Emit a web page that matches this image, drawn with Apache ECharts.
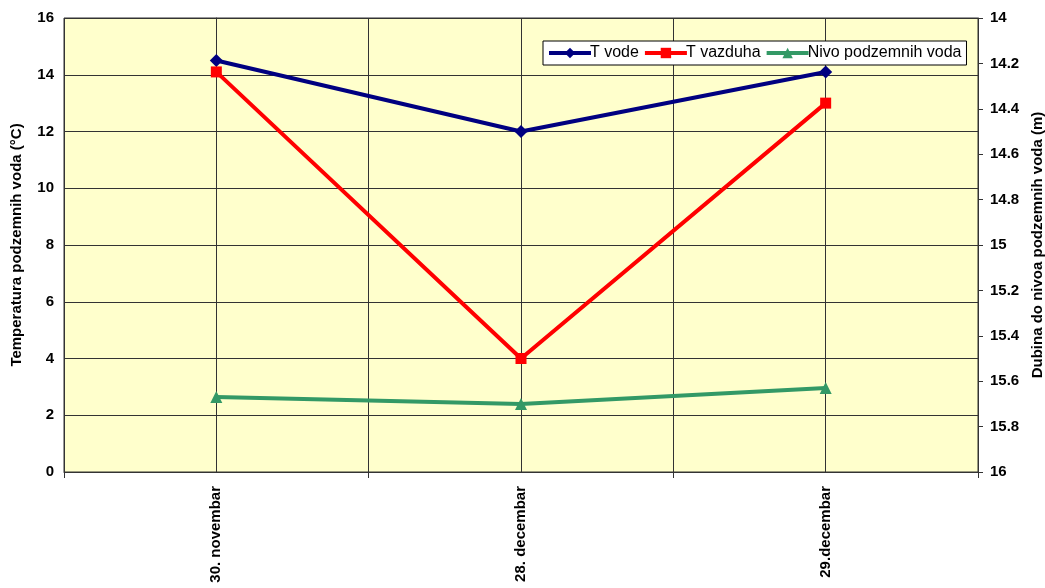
<!DOCTYPE html>
<html><head><meta charset="utf-8">
<script src="https://cdn.jsdelivr.net/npm/echarts@6/dist/echarts.min.js"></script>
<style>html,body{margin:0;padding:0;background:#fff}#c{width:1045px;height:588px}</style>
</head><body><div id="c"></div>
<script>
const categories = ['30. novembar', '28. decembar', '29.decembar'];
const tVode = [14.5, 12, 14.1];
const tVazduha = [14.1, 4, 13];
const nivo = [15.67, 15.70, 15.63];

const font = 'Liberation Sans, Arial, sans-serif';
const chart = echarts.init(document.getElementById('c'));
chart.setOption({
  animation: false,
  backgroundColor: '#ffffff',
  grid: { left: 64, right: 67, top: 18, bottom: 116, show: true, backgroundColor: '#FFFFCC', borderColor: '#333', borderWidth: 1, outerBoundsMode: 'none', containLabel: false },
  legend: {
    left: 543, top: 41, itemWidth: 42, itemHeight: 13, itemGap: 4,
    backgroundColor: '#fff', borderColor: '#000', borderWidth: 1, padding: [4, 5, 4, 4],
    lineStyle: { width: 4 },
    textStyle: { fontFamily: font, fontSize: 16, color: '#000', padding: [0, 0, 0, -6] },
    data: ['T vode', 'T vazduha', 'Nivo podzemnih voda']
  },
  xAxis: [{
    type: 'category', data: categories, boundaryGap: true,
    axisLine: { lineStyle: { color: '#333' } },
    axisTick: { show: true, length: 6, lineStyle: { color: '#333' } },
    axisLabel: { rotate: 90, fontFamily: font, fontWeight: 'bold', fontSize: 15, color: '#000', margin: 14 },
    splitLine: { show: false }
  }, {
    type: 'value', min: -0.5, max: 2.5, interval: 0.5, show: true, position: 'bottom',
    axisLine: { show: false }, axisTick: { show: false }, axisLabel: { show: false },
    splitLine: { show: true, lineStyle: { color: '#333', width: 1 } }
  }],
  yAxis: [{
    type: 'value', min: 0, max: 16, interval: 2,
    name: 'Temperatura podzemnih voda (°C)', nameLocation: 'middle', nameGap: 40, nameRotate: 90,
    nameTextStyle: { fontFamily: font, fontWeight: 'bold', fontSize: 15, color: '#000' },
    axisLine: { show: true, lineStyle: { color: '#333' } },
    axisTick: { show: true, length: 6, lineStyle: { color: '#333' } },
    axisLabel: { fontFamily: font, fontWeight: 'bold', fontSize: 15, color: '#000', margin: 10 },
    splitLine: { show: true, lineStyle: { color: '#333', width: 1 } }
  }, {
    type: 'value', min: 14, max: 16, interval: 0.2, inverse: true, position: 'right',
    name: 'Dubina do nivoa podzemnih voda (m)', nameLocation: 'middle', nameGap: 51, nameRotate: 90,
    nameTextStyle: { fontFamily: font, fontWeight: 'bold', fontSize: 15, color: '#000' },
    axisLine: { show: true, lineStyle: { color: '#333' } },
    axisTick: { show: true, length: 5, lineStyle: { color: '#333' } },
    axisLabel: { fontFamily: font, fontWeight: 'bold', fontSize: 15, color: '#000', margin: 12 },
    splitLine: { show: false }
  }],
  series: [{
    name: 'T vode', type: 'line', data: tVode, xAxisIndex: 0, yAxisIndex: 0,
    symbol: 'diamond', symbolSize: 13, color: '#000080',
    lineStyle: { width: 4, color: '#000080' }, itemStyle: { color: '#000080' }
  }, {
    name: 'T vazduha', type: 'line', data: tVazduha, xAxisIndex: 0, yAxisIndex: 0,
    symbol: 'rect', symbolSize: 11, color: '#FF0000',
    lineStyle: { width: 4, color: '#FF0000' }, itemStyle: { color: '#FF0000' }
  }, {
    name: 'Nivo podzemnih voda', type: 'line', data: nivo, xAxisIndex: 0, yAxisIndex: 1,
    symbol: 'triangle', symbolSize: 12, color: '#339966',
    lineStyle: { width: 4, color: '#339966' }, itemStyle: { color: '#339966' }
  }]
});
</script></body></html>
